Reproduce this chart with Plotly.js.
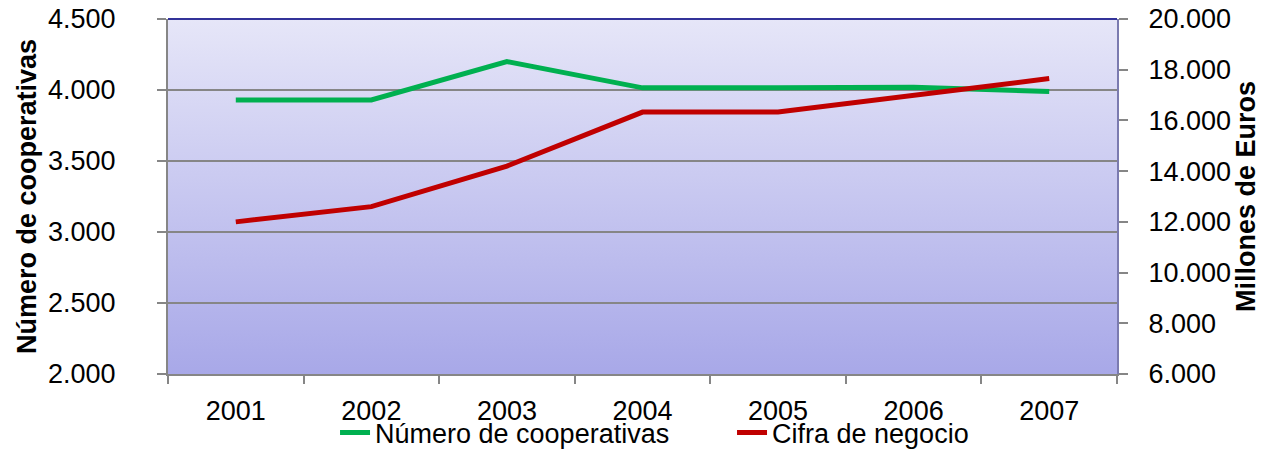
<!DOCTYPE html>
<html>
<head>
<meta charset="utf-8">
<script src="https://cdn.plot.ly/plotly-3.0.1.min.js"></script>
<style>html,body{margin:0;padding:0;background:#fff;}#chart{width:1261px;height:452px;}</style>
</head>
<body>
<div id="chart"></div>
<script>
const anios = ['2001', '2002', '2003', '2004', '2005', '2006', '2007'];
const numeroCooperativas = [3930, 3930, 4200, 4015, 4015, 4020, 3990];
const cifraNegocio = [12000, 12600, 14200, 16330, 16330, 16980, 17650];

const FONT = 'Liberation Sans, Arial, sans-serif';

const svg = "<svg xmlns='http://www.w3.org/2000/svg' width='100' height='100' viewBox='0 0 100 100' preserveAspectRatio='none'><defs><linearGradient id='g' x1='0' y1='0' x2='0' y2='1'><stop offset='0' stop-color='#e6e6f8'/><stop offset='1' stop-color='#a8a8e8'/></linearGradient></defs><rect width='100' height='100' fill='url(#g)'/></svg>";
const bg = 'data:image/svg+xml;base64,' + btoa(svg);

const traces = [
  {
    x: anios, y: numeroCooperativas, name: 'Número de cooperativas',
    type: 'scatter', mode: 'lines', yaxis: 'y',
    line: {color: '#00b050', width: 5}
  },
  {
    x: anios, y: cifraNegocio, name: 'Cifra de negocio',
    type: 'scatter', mode: 'lines', yaxis: 'y2',
    line: {color: '#c00000', width: 5}
  }
];

const layout = {
  width: 1261, height: 452,
  margin: {l: 168, r: 144, t: 19, b: 78, pad: 0, autoexpand: false},
  paper_bgcolor: '#ffffff',
  plot_bgcolor: 'rgba(0,0,0,0)',
  separators: ',.',
  font: {family: FONT, size: 27, color: '#000'},
  showlegend: true,
  legend: {
    orientation: 'h', xref: 'paper', x: 0.176, xanchor: 'left',
    yref: 'container', y: 0.042, yanchor: 'middle',
    font: {family: FONT, size: 27, color: '#000'},
    bgcolor: 'rgba(0,0,0,0)', itemwidth: 30, traceorder: 'normal',
    entrywidth: 352, entrywidthmode: 'pixels'
  },
  xaxis: {
    type: 'category', range: [-0.5, 6.5],
    showline: true, linecolor: '#868686', linewidth: 2,
    ticks: 'outside', tickson: 'boundaries', ticklen: 8, tickcolor: '#868686', tickwidth: 2,
    ticklabelstandoff: 12,
    showgrid: false, zeroline: false,
    tickfont: {family: FONT, size: 27, color: '#000'}
  },
  yaxis: {
    range: [2000, 4500], dtick: 500, tick0: 2000, tickformat: ',d',
    showline: true, linecolor: '#868686', linewidth: 2,
    ticks: 'outside', ticklen: 9, tickcolor: '#868686', tickwidth: 2,
    ticklabelstandoff: 36,
    showgrid: true, gridcolor: '#868686', gridwidth: 2, zeroline: false,
    tickfont: {family: FONT, size: 27, color: '#000'},
    title: {text: 'Número de cooperativas', font: {family: FONT, size: 27, color: '#000', weight: 'bold'}, standoff: 4},
    automargin: false
  },
  yaxis2: {
    range: [6000, 20000], dtick: 2000, tick0: 6000, tickformat: ',d',
    overlaying: 'y', side: 'right',
    showline: true, linecolor: '#7b7bb0', linewidth: 2,
    ticks: 'outside', ticklen: 9, tickcolor: '#868686', tickwidth: 2,
    ticklabelstandoff: 15,
    showgrid: false, zeroline: false,
    tickfont: {family: FONT, size: 27, color: '#000'},
    title: {text: 'Millones de Euros', font: {family: FONT, size: 27, color: '#000', weight: 'bold'}, standoff: 6},
    automargin: false
  },
  images: [{
    source: bg, xref: 'paper', yref: 'paper', x: 0, y: 1, sizex: 1, sizey: 1,
    xanchor: 'left', yanchor: 'top', sizing: 'stretch', layer: 'below'
  }],
  shapes: [{
    type: 'line', xref: 'paper', yref: 'paper', x0: 0, x1: 1, y0: 1, y1: 1,
    line: {color: '#333399', width: 2}
  }]
};

Plotly.newPlot('chart', traces, layout, {staticPlot: true, displayModeBar: false});
</script>
</body>
</html>
